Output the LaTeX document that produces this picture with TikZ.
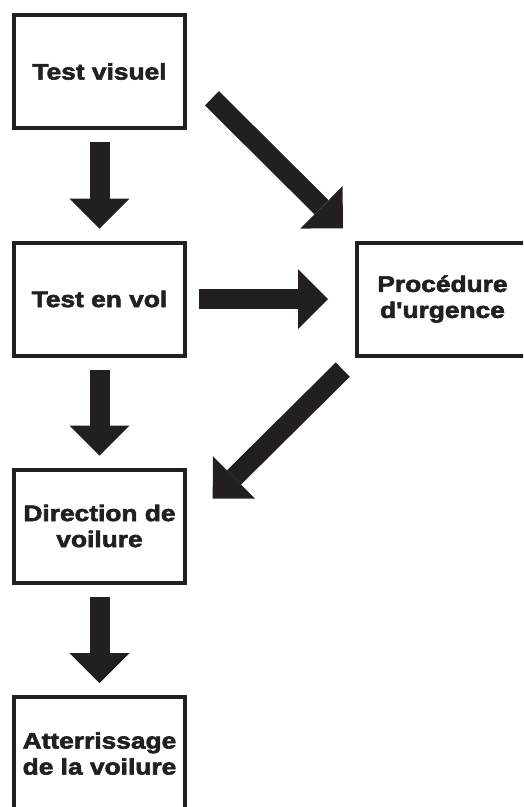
\documentclass[tikz,border=0pt]{standalone}
\usepackage{fontspec}
\newfontfamily\labelfont[BoldFeatures={FakeStretch=1.17,FakeBold=2.6}]{Liberation Sans}
\usetikzlibrary{arrows.meta}
\definecolor{ink}{RGB}{35,31,32}

\begin{document}
\begin{tikzpicture}[x=1pt,y=-1pt,
  box/.style={draw=ink,line width=4pt,minimum width=171pt,minimum height=113pt,
    inner sep=0pt,outer sep=0pt,text=ink,align=center,
    font=\labelfont\bfseries\fontsize{22.5}{26}\selectfont},
  bigarrow/.style={draw=ink,line width=20pt,
    -{Triangle[width=60pt,length=30pt,line width=0pt 0]},
    shorten <=14pt,shorten >=14pt}]
  \useasboundingbox (0,0) rectangle (523,807);
  \clip (0,0) rectangle (523,807);

  % Steps
  \node[box] (visuel) at (99.5,71.5) {Test visuel};
  \node[box] (vol) at (99.5,299) {Test en vol};
  \node[box] (urgence) at (442.5,299) {Proc\'edure\\d'urgence};
  \node[box] (direction) at (99.5,526) {Direction de\\voilure};
  \node[box] (atterrissage) at (99.5,753.5) {Atterrissage\\de la voilure};

  % Main sequence
  \draw[bigarrow] (visuel.south) -- (vol.north);
  \draw[bigarrow] (vol.south) -- (direction.north);
  \draw[bigarrow] (direction.south) -- (atterrissage.north);

  % Emergency branch
  \draw[bigarrow,shorten <=38pt,shorten >=20pt] (visuel.east) -- (urgence.north west);
  \draw[bigarrow,shorten >=29pt] (vol.east) -- (urgence.west);
  \draw[bigarrow,shorten <=20pt,shorten >=39pt] (urgence.south west) -- (direction.east);
\end{tikzpicture}
\end{document}
